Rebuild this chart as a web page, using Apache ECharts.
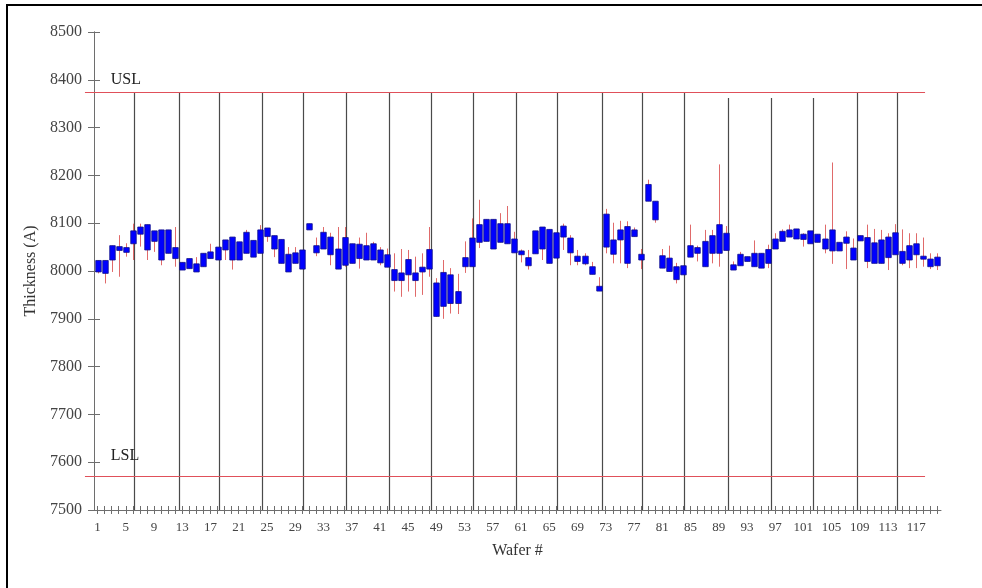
<!DOCTYPE html>
<html>
<head>
<meta charset="utf-8">
<script src="https://cdn.jsdelivr.net/npm/echarts@6/dist/echarts.min.js"></script>
<style>
html,body{margin:0;padding:0;background:#fff;}
#chart{width:982px;height:588px;}
</style>
</head>
<body>
<div id="chart"></div>
<script>
// ---- data ----
var waferCount = 120;
var wafers = [];
for (var i = 1; i <= waferCount; i++) wafers.push(String(i));

var boxHigh = [8022,8022,8053,8051,8049,8084,8092,8097,8084,8086,8086,8049,8018,8026,8015,8037,8040,8050,8065,8071,
8061,8081,8064,8086,8090,8074,8066,8035,8038,8044,8099,8053,8081,8071,8046,8070,8057,8056,8053,8057,
8044,8034,8003,7996,8024,7996,8008,8045,7975,7997,7992,7957,8028,8069,8097,8108,8108,8099,8099,8067,
8042,8028,8084,8092,8087,8080,8094,8069,8031,8031,8009,7968,8119,8065,8086,8093,8086,8035,8181,8146,
8032,8027,8009,8011,8053,8049,8062,8074,8097,8079,8013,8035,8030,8037,8037,8045,8067,8083,8086,8088,
8077,8084,8077,8067,8086,8060,8071,8048,8074,8070,8059,8065,8071,8080,8041,8053,8057,8031,8025,8029];
var boxLow = [7998,7995,8023,8043,8039,8057,8077,8044,8062,8023,8037,8026,8002,8005,7998,8009,8026,8023,8044,8023,
8023,8037,8029,8037,8072,8046,8016,7998,8016,8004,8086,8038,8046,8034,8004,8012,8016,8026,8023,8023,
8017,8008,7980,7980,7992,7980,7998,8004,7905,7926,7932,7932,8009,8009,8060,8062,8046,8060,8057,8038,
8034,8011,8036,8046,8016,8027,8071,8038,8020,8015,7993,7958,8050,8035,8065,8016,8072,8023,8146,8107,
8006,7999,7982,7992,8029,8037,8009,8037,8037,8043,8002,8011,8020,8009,8006,8016,8046,8062,8071,8067,
8066,8057,8060,8046,8042,8042,8058,8023,8063,8020,8016,8016,8028,8034,8016,8023,8034,8025,8009,8011];
var whiskerHigh = [8022,8022,8053,8075,8058,8099,8099,8097,8084,8086,8086,8092,8018,8026,8029,8037,8057,8050,8065,8071,
8061,8086,8064,8096,8090,8074,8066,8050,8050,8044,8099,8070,8092,8080,8092,8092,8057,8070,8080,8061,
8050,8047,8037,8046,8044,8030,8037,8092,7985,8023,8006,7994,8062,8110,8149,8108,8108,8121,8136,8082,
8045,8044,8084,8092,8087,8080,8099,8075,8044,8037,8019,7987,8130,8101,8105,8104,8091,8046,8191,8146,
8046,8053,8017,8011,8097,8053,8086,8086,8223,8094,8020,8040,8030,8064,8037,8055,8079,8087,8097,8088,
8079,8084,8077,8097,8227,8060,8083,8068,8074,8097,8088,8086,8079,8098,8087,8079,8079,8070,8037,8037];
var whiskerLow = [7995,7974,7998,7988,8030,8023,8051,8023,8040,8012,8037,8009,8002,8005,7998,8009,8026,8023,8023,8003,
8023,8037,8029,8037,8061,8029,8016,7998,8016,8004,8086,8031,8046,8012,8004,8009,8016,8005,8023,8023,
8012,8008,7957,7946,7957,7946,7950,7988,7904,7900,7911,7910,7996,8009,8048,8062,8046,8060,8057,8038,
8018,8003,8036,8023,8016,8027,8044,8012,8012,8012,7993,7958,8037,8016,8016,8006,8072,8004,8146,8101,
8006,7999,7974,7992,8029,8020,8009,8016,8009,8043,8002,8011,8020,8009,8006,8006,8046,8062,8071,8067,
8051,8057,8060,8037,8015,8042,8004,8023,8063,8006,8016,8016,8002,8034,8012,8006,8006,8009,8004,8002];

// lot separators (wafer position) and the value where each line starts at the top
var lotLines = [6.12,12.54,18.14,24.37,30.04,36.2,42.34,48.18,54.2,60.22,66.06,72.48,78.14,84.09,90.28,96.46,102.33,108.56,114.2];
var lotLineTop = [8374,8374,8374,8374,8374,8374,8374,8374,8374,8374,8374,8374,8374,8374,8362,8362,8362,8374,8374];

var specNames = ['USL','LSL'];
var specValues = [8374, 7572];
var specLabelGap = [12, 20];
var specStart = -0.78, specEnd = 118.24;

var yMin = 7500, yMax = 8500, yStep = 100;

// ---- build ----
var candleData = wafers.map(function(w, i){
  return [i, boxHigh[i], boxLow[i], whiskerHigh[i], whiskerLow[i]];
});
var lotData = lotLines.map(function(x, i){ return [x, lotLineTop[i]]; });
var specData = specValues.map(function(v, i){ return [specStart, v, specEnd, i]; });

var serif = 'Liberation Serif, Times New Roman, serif';
var axisGrey = '#6e6e6e';

var chart = echarts.init(document.getElementById('chart'), null, {renderer:'canvas'});
chart.setOption({
  animation: false,
  backgroundColor: '#ffffff',
  grid: {left: 94, right: 41, top: 32, bottom: 78, containLabel: false},
  graphic: [
    {type:'line', shape:{x1:7, y1:5, x2:7, y2:588}, style:{stroke:'#000', lineWidth:2}},
    {type:'line', shape:{x1:6, y1:5, x2:982, y2:5}, style:{stroke:'#000', lineWidth:2}}
  ],
  xAxis: [
    {
      type:'category', data: wafers, boundaryGap:true, gridIndex:0,
      axisLine:{show:true, lineStyle:{color:axisGrey, width:1}},
      axisTick:{show:true, interval:0, alignWithLabel:true, length:4, lineStyle:{color:axisGrey}},
      axisLabel:{interval:3, fontFamily:serif, fontSize:13, color:'#444', margin:11},
      splitLine:{show:false},
      name:'Wafer #', nameLocation:'middle', nameGap:33,
      nameTextStyle:{fontFamily:serif, fontSize:16, color:'#333'}
    },
    {
      type:'category', data: wafers, boundaryGap:true, gridIndex:0, position:'bottom',
      axisLine:{show:false},
      axisTick:{show:true, inside:true, interval:0, alignWithLabel:true, length:4, lineStyle:{color:axisGrey}},
      axisLabel:{show:false}, splitLine:{show:false}
    },
    {
      type:'value', min:0.5, max:waferCount+0.5, show:false, gridIndex:0
    }
  ],
  yAxis: [
    {
      type:'value', min:yMin, max:yMax, interval:yStep,
      axisLine:{show:true, lineStyle:{color:axisGrey, width:1}},
      axisTick:{show:true, length:6, lineStyle:{color:axisGrey}},
      axisLabel:{fontFamily:serif, fontSize:16, color:'#444', margin:12,
                 formatter:function(v){ return String(v); }},
      splitLine:{show:false},
      name:'Thickness (A)', nameLocation:'middle', nameGap:52, nameRotate:90,
      nameTextStyle:{fontFamily:serif, fontSize:16, color:'#333'}
    },
    {
      type:'value', min:yMin, max:yMax, interval:yStep, position:'left', offset:0,
      axisLine:{show:true, lineStyle:{color:axisGrey, width:1}},
      axisTick:{show:true, inside:true, length:6, lineStyle:{color:axisGrey}},
      axisLabel:{show:false}, splitLine:{show:false}
    }
  ],
  series: [
    {
      type:'custom', name:'lots', xAxisIndex:2, yAxisIndex:0, clip:false, z:1,
      data: lotData,
      renderItem: function(params, api){
        var top = api.coord([api.value(0), api.value(1)]);
        var bot = api.coord([api.value(0), yMin]);
        return {type:'line', shape:{x1:Math.round(top[0])+0.5, y1:top[1], x2:Math.round(top[0])+0.5, y2:bot[1]},
                style:{stroke:'#4a4a4a', lineWidth:1.2}};
      }
    },
    {
      type:'custom', name:'spec', xAxisIndex:2, yAxisIndex:0, clip:false, z:2,
      data: specData,
      renderItem: function(params, api){
        var idx = api.value(3);
        var a = api.coord([api.value(0), api.value(1)]);
        var b = api.coord([api.value(2), api.value(1)]);
        var lab = api.coord([2.87, api.value(1)]);
        return {type:'group', children:[
          {type:'line', shape:{x1:a[0], y1:Math.round(a[1])+0.5, x2:b[0], y2:Math.round(b[1])+0.5},
           style:{stroke:'#e0505a', lineWidth:1}},
          {type:'text', style:{text:specNames[idx], x:lab[0], y:lab[1]-specLabelGap[idx],
           fill:'#222', font:'16px ' + serif, textAlign:'left', textVerticalAlign:'middle'}}
        ]};
      }
    },
    {
      type:'custom', name:'thickness', xAxisIndex:0, yAxisIndex:0, z:3,
      data: candleData,
      renderItem: function(params, api){
        var x = api.value(0);
        var hi = api.coord([x, api.value(1)]);
        var lo = api.coord([x, api.value(2)]);
        var wh = api.coord([x, api.value(3)]);
        var wl = api.coord([x, api.value(4)]);
        var bw = api.size([1, 0])[0] * 0.78;
        var cx = Math.round(hi[0]) + 0.5;
        var h = Math.max(lo[1] - hi[1], 3);
        return {type:'group', children:[
          {type:'line', shape:{x1:cx, y1:wh[1], x2:cx, y2:wl[1]}, style:{stroke:'#e06a6a', lineWidth:1}},
          {type:'rect', shape:{x:cx - bw/2, y:hi[1], width:bw, height:h},
           style:{fill:'#0000ff', stroke:'#10108c', lineWidth:0.8}}
        ]};
      }
    }
  ]
});
</script>
</body>
</html>
